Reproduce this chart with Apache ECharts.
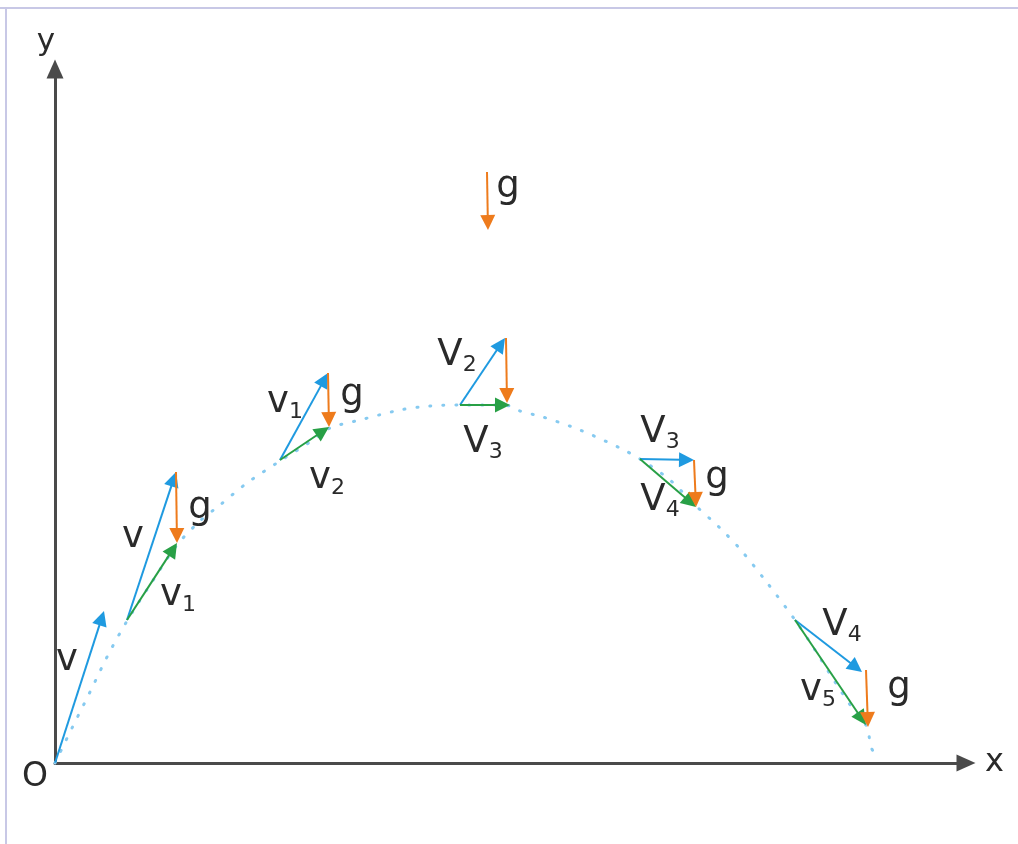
<!DOCTYPE html>
<html>
<head>
<meta charset="utf-8">
<script src="https://cdn.jsdelivr.net/npm/echarts@6/dist/echarts.min.js"></script>
<style>
html,body{margin:0;padding:0;background:#fff;}
#chart{width:1018px;height:844px;}
</style>
</head>
<body>
<div id="chart"></div>
<script>
// Trajectory points (x, y), origin O at (0,0)
var trajectory = [
  [0,0],[17,35],[35,71],[53,108],[72,142],[95,178],[122,218],[145,242],[165,258],
  [192,280],[225,302],[255,321],[275,335],[305,343],[345,353],[375,357],[405,358],
  [435,358],[455,357],[465,352],[488,346],[525,333],[565,315],[585,304],[615,283],
  [641,257],[665,235],[685,214],[710,183],[740,143],[760,113],[780,81],[800,51],
  [812,36],[816,16],[822,6]
];
// Vectors: [x1, y1, x2, y2]
var blueVectors = [
  [0,0,49,152],
  [72,143,121,291],
  [225,303,273,390],
  [405,358,450,425],
  [585,304,639,303],
  [740,143,807,91]
];
var orangeVectors = [
  [121,291,122,220],
  [273,390,274,336],
  [451,425,452,360],
  [639,303,641,256],
  [811,93,813,36],
  [432,591,433,533]
];
var greenVectors = [
  [72,143,122,220],
  [225,303,274,336],
  [405,358,455,358],
  [585,304,641,256],
  [740,143,811,38]
];
// Labels
var labelMain = ['v','v','g','v','v','g','v','g','V','V','V','g','V','V','g','v'];
var labelSub  = ['', '', '', '1','1','', '2','', '2','3','3','', '4','4','', '5'];
var labelX    = [12, 78, 145,123,230,297,272,453,402,428,605,662,605,787,844,763];
var labelY    = [103,226,255,168,361,368,285,576,408,321,331,285,263,138, 75, 73];

var FONT = '"DejaVu Sans", sans-serif';
var TEXT = '#2a2a2a';

var labelData = labelMain.map(function(m,i){
  return {value:[labelX[i], labelY[i]], name: m, sub: labelSub[i]};
});

function arrowRender(color){
  return function(params, api){
    var p1 = api.coord([api.value(0), api.value(1)]);
    var p2 = api.coord([api.value(2), api.value(3)]);
    var dx = p2[0]-p1[0], dy = p2[1]-p1[1];
    var L = Math.sqrt(dx*dx+dy*dy);
    var ux = dx/L, uy = dy/L;
    var hl = 15, hw = 7.5;
    var bx = p2[0]-ux*hl, by = p2[1]-uy*hl;
    return {
      type:'group',
      children:[
        {type:'line', shape:{x1:p1[0],y1:p1[1],x2:bx+ux*2,y2:by+uy*2}, style:{stroke:color,lineWidth:2}},
        {type:'polygon', shape:{points:[[p2[0],p2[1]],[bx-uy*hw,by+ux*hw],[bx+uy*hw,by-ux*hw]]}, style:{fill:color}}
      ]
    };
  };
}

var labelStyleBase = {opacity:1, textBorderWidth:0, textShadowBlur:0};

var chart = echarts.init(document.getElementById('chart'), null, {renderer:'canvas'});
chart.setOption({
  backgroundColor:'#ffffff',
  animation:false,
  grid:{left:55, right:52, top:69, bottom:81, containLabel:false},
  xAxis:{
    type:'value', min:0, max:911,
    splitLine:{show:false}, axisTick:{show:false}, axisLabel:{show:false},
    axisLine:{show:true, symbol:['none','triangle'], symbolSize:[17,19], lineStyle:{color:'#4a4a4a', width:3}},
    name:'x', nameLocation:'end', nameGap:19,
    nameTextStyle:{fontSize:32, color:TEXT, fontFamily:FONT, verticalAlign:'middle', padding:[0,0,6,0]}
  },
  yAxis:{
    type:'value', min:0, max:694,
    splitLine:{show:false}, axisTick:{show:false}, axisLabel:{show:false},
    axisLine:{show:true, symbol:['none','triangle'], symbolSize:[17,19], lineStyle:{color:'#4a4a4a', width:3}},
    name:'y', nameLocation:'end', nameGap:12,
    nameTextStyle:{fontSize:31, color:TEXT, fontFamily:FONT, padding:[0,18,0,0]}
  },
  graphic:[
    {type:'rect', shape:{x:0,y:7,width:1018,height:2}, style:{fill:'#c8c8e6'}, z:100},
    {type:'rect', shape:{x:5,y:7,width:2,height:837}, style:{fill:'#c8c8e6'}, z:100}
  ],
  series:[
    {
      type:'line', data:trajectory, smooth:0.3, showSymbol:false, symbol:'none', clip:false,
      lineStyle:{color:'#86caf0', width:3, type:[1,12], cap:'round'}, z:1
    },
    {type:'custom', renderItem:arrowRender('#1f9ae0'), data:blueVectors, encode:{x:[0,2], y:[1,3]}, clip:false, z:3},
    {type:'custom', renderItem:arrowRender('#28a046'), data:greenVectors, encode:{x:[0,2], y:[1,3]}, clip:false, z:4},
    {type:'custom', renderItem:arrowRender('#ee7b1c'), data:orangeVectors, encode:{x:[0,2], y:[1,3]}, clip:false, z:5},
    {
      type:'scatter', data:labelData, symbolSize:1, itemStyle:{color:'#ffffff', opacity:1}, clip:false, z:6,
      label:Object.assign({
        show:true, position:'inside', color:TEXT,
        formatter:function(p){ return '{m|'+p.data.name+'}' + (p.data.sub ? '{s|'+p.data.sub+'}' : ''); },
        rich:{
          m:{fontSize:37, lineHeight:42, fontFamily:FONT, color:TEXT, textBorderWidth:0},
          s:{fontSize:22, lineHeight:27, verticalAlign:'bottom', fontFamily:FONT, color:TEXT, textBorderWidth:0}
        }
      }, labelStyleBase)
    },
    {
      type:'scatter', data:[{value:[0,0], name:'O'}], symbolSize:1, itemStyle:{color:'#ffffff', opacity:1}, clip:false, z:6,
      label:Object.assign({show:true, position:'inside', offset:[-20,14], formatter:'{b}', fontSize:33, fontFamily:FONT, color:TEXT}, labelStyleBase)
    }
  ]
});
</script>
</body>
</html>
